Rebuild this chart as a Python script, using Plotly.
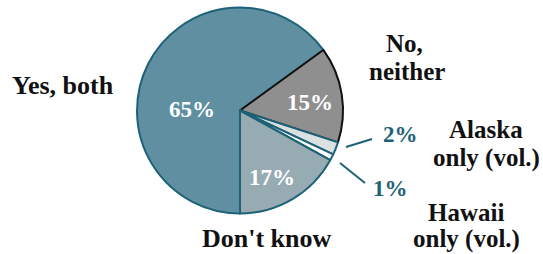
import plotly.graph_objects as go

categories = ["Yes, both", "No, neither", "Alaska only (vol.)", "Hawaii only (vol.)", "Don't know"]
values = [65, 15, 2, 1, 17]
colors = ["#5f8fa1", "#8f8f8f", "#dbe1e3", "#ffffff", "#97abb3"]
line_colors = ["#1d6277", "#111111", "#1d6277", "#1d6277", "#1d6277"]

W, H = 543, 254

def px(x, y):
    return x / W, 1 - y / H

fig = go.Figure(go.Pie(
    labels=categories,
    values=values,
    sort=False,
    direction="clockwise",
    rotation=180,
    marker=dict(colors=colors, line=dict(color=line_colors, width=2)),
    textinfo="none",
    hoverinfo="label+percent",
    domain=dict(x=[137 / W, 343 / W], y=[1 - 214 / H, 1 - 7 / H]),
    showlegend=False,
))

serif = "Liberation Serif, Times New Roman, serif"
teal = "#1d6277"
ann = []

def add(text, x, y, size, color="#111111"):
    ax, ay = px(x, y)
    ann.append(dict(text=text, x=ax, y=ay, xref="paper", yref="paper", showarrow=False,
                    font=dict(family=serif, size=size, color=color), xanchor="center", yanchor="middle"))

# inside percentages
add(f"<b>{values[0]}%</b>", 192, 109, 23, "white")
add(f"<b>{values[1]}%</b>", 310, 103, 23, "white")
add(f"<b>{values[4]}%</b>", 272, 177, 23, "white")
# outside percentages
add(f"<b>{values[2]}%</b>", 400, 134, 23, teal)
add(f"<b>{values[3]}%</b>", 390, 188, 23, teal)
# category labels (one annotation per line for tight line spacing)
add("<b>Yes, both</b>", 63, 85, 26)
add("<b>No,</b>", 404, 43, 25)
add("<b>neither</b>", 407, 72, 25)
add("<b>Alaska</b>", 486, 129, 25)
add("<b>only (vol.)</b>", 486, 158, 25)
add("<b>Hawaii</b>", 466, 212, 25)
add("<b>only (vol.)</b>", 466, 239, 25)
add("<b>Don't know</b>", 267, 238, 26)

shapes = []
for (x0, y0, x1, y1) in [(346, 147, 372, 139), (340, 163, 365, 183)]:
    a0, b0 = px(x0, y0)
    a1, b1 = px(x1, y1)
    shapes.append(dict(type="line", xref="paper", yref="paper", x0=a0, y0=b0, x1=a1, y1=b1,
                       line=dict(color=teal, width=2)))

fig.update_layout(
    width=W, height=H,
    margin=dict(l=0, r=0, t=0, b=0),
    paper_bgcolor="white", plot_bgcolor="white",
    annotations=ann, shapes=shapes,
)

fig.write_html("out.html", config={"displayModeBar": False})
with open("out.html", encoding="utf-8") as f:
    html = f.read()
html = html.replace("<body>", '<body style="margin:0;overflow:hidden">', 1)
with open("out.html", "w", encoding="utf-8") as f:
    f.write(html)
